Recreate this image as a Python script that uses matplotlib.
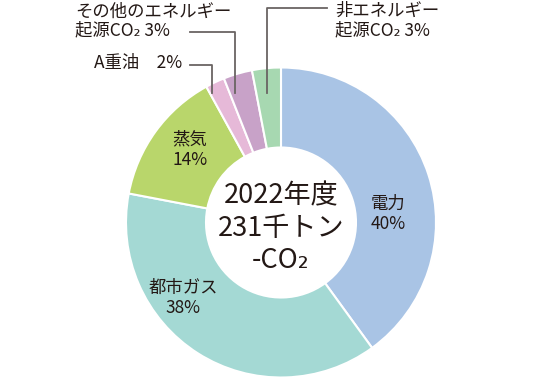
import matplotlib
matplotlib.use("Agg")
import matplotlib.pyplot as plt

plt.rcParams['font.family'] = ['Noto Sans CJK JP', 'DejaVu Sans']

# data, clockwise from the top
labels = ['電力', '都市ガス', '蒸気', 'A重油', 'その他のエネルギー起源CO₂', '非エネルギー起源CO₂']
shares = [40, 38, 14, 2, 3, 3]
colors = ['#a9c4e5', '#a4d9d4', '#b9d66b', '#e6b9d8', '#c8a2c8', '#a7d8b1']
center_lines = ['2022年度', '231千トン', '-CO₂']

W, H = 560, 378
txt = '#231815'
line_c = '#6a6463'
fs = 12.5

fig = plt.figure(figsize=(W / 100, H / 100), dpi=100)
ax = fig.add_axes([0, 0, 1, 1])

cx, cy = 281, H - 222.5
R = 155
ax.pie(shares, colors=colors, startangle=90, counterclock=False,
       center=(cx, cy), radius=R,
       wedgeprops=dict(width=80, edgecolor='white', linewidth=1.5))
ax.set_xlim(0, W)
ax.set_ylim(0, H)
ax.set_aspect('equal')
ax.axis('off')

def y(p):
    return H - p

# labels inside the ring
ax.text(388, y(214), f'{labels[0]}\n{shares[0]}%', ha='center', va='center',
        fontsize=fs, color=txt, linespacing=1.2)
ax.text(183, y(298), f'{labels[1]}\n{shares[1]}%', ha='center', va='center',
        fontsize=fs, color=txt, linespacing=1.2)
ax.text(190, y(150), f'{labels[2]}\n{shares[2]}%', ha='center', va='center',
        fontsize=fs, color=txt, linespacing=1.2)

# center title
for i, s in enumerate(center_lines):
    ax.text(cx, y(196 + i * 32), s, ha='center', va='center', fontsize=19.5, color=txt)

# outside labels with leader lines
ax.text(182, y(63), f'{labels[3]}　{shares[3]}%', ha='right', va='center',
        fontsize=fs, color=txt)
ax.plot([190, 212, 212], [y(65), y(65), y(93)], color=line_c, lw=1.3)

ax.text(75, y(21), f'その他のエネルギー\n起源CO₂ {shares[4]}%', ha='left', va='center',
        fontsize=fs, color=txt, linespacing=1.1)
ax.plot([190, 235, 235], [y(32), y(32), y(93)], color=line_c, lw=1.3)

ax.text(335, y(21), f'非エネルギー\n起源CO₂ {shares[5]}%', ha='left', va='center',
        fontsize=fs, color=txt, linespacing=1.1)
ax.plot([327, 267, 267], [y(8), y(8), y(93)], color=line_c, lw=1.3)

fig.savefig('out.png', dpi=100)
